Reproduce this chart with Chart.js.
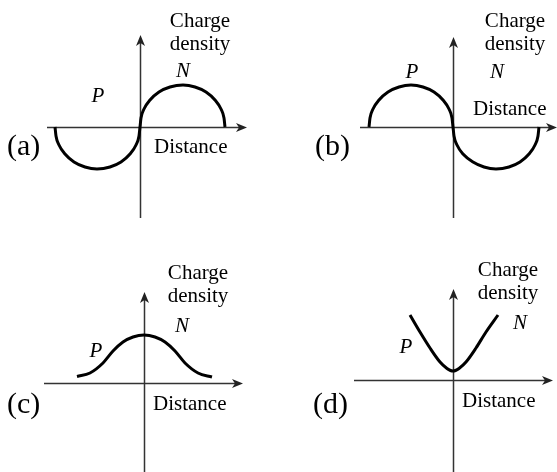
<!DOCTYPE html>
<html>
<head>
<meta charset="utf-8">
<script src="https://cdn.jsdelivr.net/npm/chart.js@4.4.1/dist/chart.umd.min.js"></script>
<style>
  html, body { margin: 0; padding: 0; background: #fff; }
  #wrap { position: relative; width: 557px; height: 472px; overflow: hidden; }
  #wrap canvas { position: absolute; left: 0; top: 0; }
</style>
</head>
<body>
<div id="wrap">
  <canvas id="chartA" width="557" height="472"></canvas>
  <canvas id="chartB" width="557" height="472"></canvas>
  <canvas id="chartC" width="557" height="472"></canvas>
  <canvas id="chartD" width="557" height="472"></canvas>
</div>
<script>
// ==========================
// CURVE DATA (distance vs charge density, 1 unit = 10 px)
// ==========================
const aDistance = [-8.5, -8.4, -8.1, -7.5, -6.6, -5.5, -4.3, -3.0, -1.9, -1.0, -0.4, -0.1, 0,
                   0.1, 0.4, 1.0, 1.9, 3.0, 4.3, 5.5, 6.6, 7.5, 8.1, 8.4, 8.5];
const aDensity = [0, -0.9, -1.8, -2.7, -3.5, -4.0, -4.2, -4.0, -3.5, -2.7, -1.8, -0.9, 0,
                  0.9, 1.8, 2.7, 3.5, 4.0, 4.2, 4.0, 3.5, 2.7, 1.8, 0.9, 0];

const bDistance = [-8.4, -8.3, -8.0, -7.4, -6.5, -5.4, -4.2, -3.0, -1.9, -1.0, -0.4, -0.1, 0,
                   0.1, 0.4, 1.0, 2.0, 3.1, 4.3, 5.6, 6.7, 7.6, 8.2, 8.5, 8.6];
const bDensity = [0, 0.9, 1.8, 2.7, 3.5, 4.0, 4.2, 4.0, 3.5, 2.7, 1.8, 0.9, 0,
                  -0.9, -1.8, -2.7, -3.5, -4.0, -4.2, -4.0, -3.5, -2.7, -1.8, -0.9, 0];

const cDistance = [-6.7, -5.4, -4.1, -3.1, -2.1, -1.1, 0, 1.1, 2.1, 3.1, 4.1, 5.4, 6.8];
const cDensity = [0.65, 1.0, 2.0, 3.2, 4.1, 4.6, 4.8, 4.6, 4.1, 3.2, 2.0, 1.0, 0.6];

const dDistance = [-4.3, -3.3, -2.3, -1.3, -0.6, -0.25, 0, 0.25, 0.6, 1.3, 2.3, 3.3, 4.5];
const dDensity = [6.5, 4.8, 3.2, 1.8, 1.15, 0.95, 0.9, 0.95, 1.15, 1.8, 3.2, 4.8, 6.5];

const axisTitleY = ["Charge", "density"];
const axisTitleX = "Distance";
const regionLabels = ["P", "N"];

// ==========================
// LAYOUT OF THE FOUR PANELS
// ==========================
const UNIT = 10;
const W = 557, H = 472;
const SERIF = '"Liberation Serif", "Times New Roman", serif';

const panels = [
  { id: "chartA", tag: "(a)", xs: aDistance, ys: aDensity, origin: [140, 127],
    xAxis: [-9.3, 10.7], yAxis: [-9.1, 9.2],
    tagPos: [7, 155], titlePos: [200, 27], distPos: [154, 153], pPos: [98, 102], nPos: [183, 77] },
  { id: "chartB", tag: "(b)", xs: bDistance, ys: bDensity, origin: [453, 127],
    xAxis: [-9.3, 10.4], yAxis: [-9.1, 9.0],
    tagPos: [315, 155], titlePos: [515, 27], distPos: [473, 115], pPos: [412, 78], nPos: [497, 78] },
  { id: "chartC", tag: "(c)", xs: cDistance, ys: cDensity, origin: [144, 383],
    xAxis: [-10, 9.9], yAxis: [-9.0, 9.1],
    tagPos: [7, 413], titlePos: [198, 279], distPos: [153, 410], pPos: [96, 357], nPos: [182, 332] },
  { id: "chartD", tag: "(d)", xs: dDistance, ys: dDensity, origin: [453, 380],
    xAxis: [-9.9, 10.0], yAxis: [-9.3, 9.1],
    tagPos: [313, 413], titlePos: [508, 276], distPos: [462, 407], pPos: [406, 353], nPos: [520, 329] },
];

// ==========================
// ARROW-HEADED AXES + LABELS
// ==========================
function drawArrow(ctx, x, y, angle) {
  ctx.save();
  ctx.translate(x, y);
  ctx.rotate(angle);
  ctx.beginPath();
  ctx.moveTo(0, 0);
  ctx.lineTo(-11, -4.5);
  ctx.lineTo(-8, 0);
  ctx.lineTo(-11, 4.5);
  ctx.closePath();
  ctx.fill();
  ctx.restore();
}

const axesPlugin = {
  id: "pnAxes",
  beforeDatasetsDraw(chart, args, opts) {
    const ctx = chart.ctx;
    const sx = chart.scales.x, sy = chart.scales.y;
    const x0 = Math.round(sx.getPixelForValue(0)) + 0.5;
    const y0 = Math.round(sy.getPixelForValue(0)) + 0.5;
    const xl = sx.getPixelForValue(opts.xAxis[0]);
    const xr = sx.getPixelForValue(opts.xAxis[1]);
    const yb = sy.getPixelForValue(opts.yAxis[0]);
    const yt = sy.getPixelForValue(opts.yAxis[1]);

    ctx.save();
    ctx.strokeStyle = "#333";
    ctx.fillStyle = "#222";
    ctx.lineWidth = 1.5;
    ctx.beginPath();
    ctx.moveTo(xl, y0);
    ctx.lineTo(xr - 6, y0);
    ctx.moveTo(x0, yb);
    ctx.lineTo(x0, yt + 6);
    ctx.stroke();
    drawArrow(ctx, xr, y0, 0);
    drawArrow(ctx, x0, yt, -Math.PI / 2);
    ctx.restore();
  },
  afterDraw(chart, args, opts) {
    const ctx = chart.ctx;
    ctx.save();
    ctx.fillStyle = "#000";
    ctx.textBaseline = "alphabetic";

    ctx.font = "30px " + SERIF;
    ctx.textAlign = "left";
    ctx.fillText(opts.tag, opts.tagPos[0], opts.tagPos[1]);

    ctx.font = "21px " + SERIF;
    ctx.textAlign = "center";
    ctx.fillText(axisTitleY[0], opts.titlePos[0], opts.titlePos[1]);
    ctx.fillText(axisTitleY[1], opts.titlePos[0], opts.titlePos[1] + 23);

    ctx.textAlign = "left";
    ctx.fillText(axisTitleX, opts.distPos[0], opts.distPos[1]);

    ctx.font = "italic 21px " + SERIF;
    ctx.textAlign = "center";
    ctx.fillText(regionLabels[0], opts.pPos[0], opts.pPos[1]);
    ctx.fillText(regionLabels[1], opts.nPos[0], opts.nPos[1]);
    ctx.restore();
  }
};

// ==========================
// BUILD CHARTS
// ==========================
panels.forEach(p => {
  const [ox, oy] = p.origin;
  const points = p.xs.map((x, i) => ({ x: x, y: p.ys[i] }));

  new Chart(document.getElementById(p.id).getContext("2d"), {
    type: "line",
    data: {
      datasets: [{
        data: points,
        borderColor: "#000",
        borderWidth: 3,
        pointRadius: 0,
        cubicInterpolationMode: "monotone",
        fill: false
      }]
    },
    options: {
      responsive: false,
      animation: false,
      events: [],
      layout: { padding: 0 },
      scales: {
        x: { type: "linear", display: false, min: -ox / UNIT, max: (W - ox) / UNIT },
        y: { type: "linear", display: false, min: -(H - oy) / UNIT, max: oy / UNIT }
      },
      plugins: {
        legend: { display: false },
        tooltip: { enabled: false },
        pnAxes: p
      }
    },
    plugins: [axesPlugin]
  });
});
</script>
</body>
</html>
